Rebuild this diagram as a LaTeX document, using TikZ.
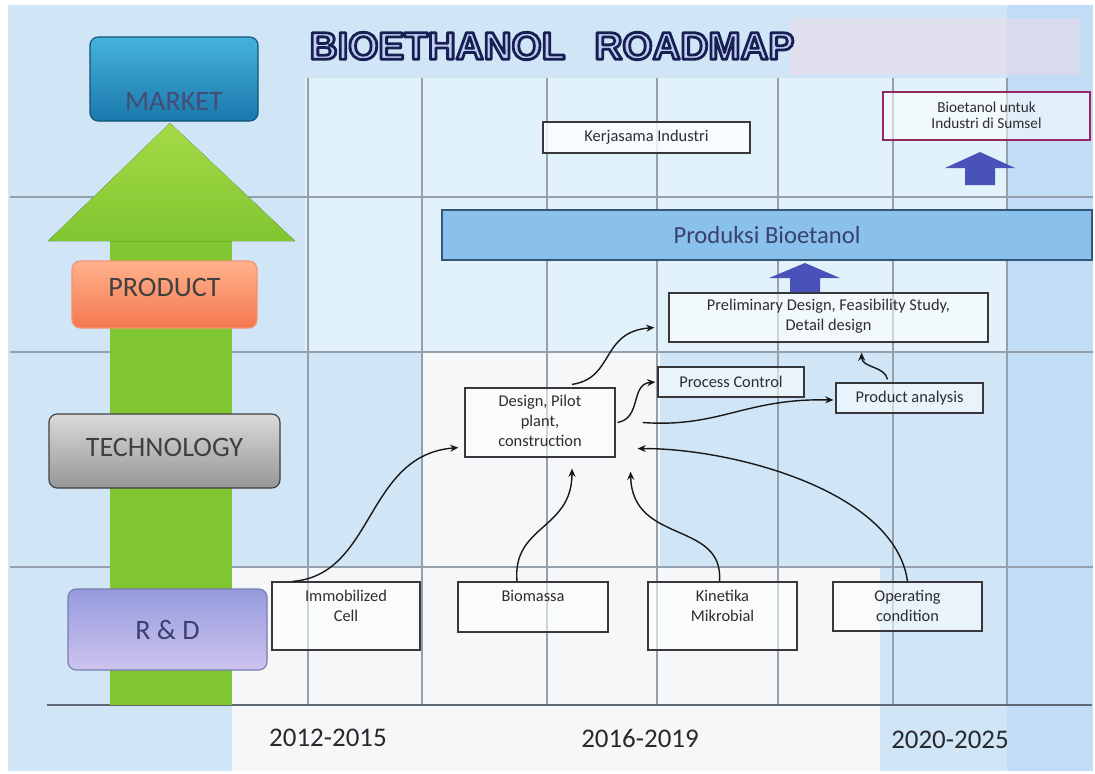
\documentclass[tikz,border=0pt]{standalone}
\usepackage{fontspec}
\setmainfont{Carlito}
\newfontfamily\ttlfont{Liberation Sans}
\usetikzlibrary{calc,arrows.meta}
\definecolor{bgblue}{RGB}{208,230,247}
\definecolor{bgcyan}{RGB}{226,242,251}
\definecolor{bgwhite}{RGB}{246,247,248}
\definecolor{bgright}{RGB}{192,221,245}
\definecolor{bgpink}{RGB}{246,218,228}
\definecolor{gridc}{RGB}{150,160,172}
\definecolor{axisc}{RGB}{95,105,118}
\definecolor{boxline}{RGB}{55,55,60}
\definecolor{txt}{RGB}{45,45,50}
\definecolor{navy}{RGB}{22,32,82}
\definecolor{ttlfill}{RGB}{196,204,242}
\definecolor{greenA}{RGB}{128,198,48}
\definecolor{greenB}{RGB}{165,218,72}
\definecolor{mkttop}{RGB}{70,178,220}
\definecolor{mktbot}{RGB}{25,120,172}
\definecolor{prodtop}{RGB}{255,178,140}
\definecolor{prodbot}{RGB}{245,120,80}
\definecolor{techtop}{RGB}{218,218,218}
\definecolor{techbot}{RGB}{150,150,152}
\definecolor{rndtop}{RGB}{150,155,222}
\definecolor{rndbot}{RGB}{205,195,238}
\definecolor{barblue}{RGB}{138,192,236}
\definecolor{barline}{RGB}{50,85,120}
\definecolor{blockblue}{RGB}{72,82,185}
\definecolor{sumline}{RGB}{150,40,95}
\newcommand{\strokeon}{\special{pdf:literal direct 2 Tr 2.4 w 1 j 0.086 0.125 0.32 RG}}
\newcommand{\strokeoff}{\special{pdf:literal direct 0 Tr}}
\begin{document}
\begin{tikzpicture}[x=0.03cm,y=-0.03cm,
  wh/.style 2 args={minimum width=#1*0.03cm, minimum height=#2*0.03cm},
  gridline/.style={draw=gridc, line width=1.1pt},
  levelbox/.style={rounded corners=7pt, line width=1pt, inner sep=0pt},
  leveltext/.style={font=\fontsize{24}{28}\selectfont, inner sep=0pt},
  box/.style={draw=boxline, line width=1pt, fill=white, fill opacity=0.55, text opacity=1, inner sep=0pt},
  boxtext/.style={font=\fontsize{14}{17}\selectfont, text=txt, align=center, inner sep=0pt},
  conn/.style={draw=black!90, line width=1.2pt, -{Stealth[length=7pt,width=6pt]}},
  yeartext/.style={font=\fontsize{23}{26}\selectfont, text=txt!90!black, inner sep=0pt}
]
\useasboundingbox (0,0) rectangle (1095,773);
% background
\fill[white] (0,0) rectangle (1095,773);
\fill[bgblue] (8,5) rectangle (1093,771);
\fill[bgcyan] (305,78) rectangle (1007,352);
\fill[bgright] (1007,5) rectangle (1093,771);
\fill[bgpink, opacity=0.45] (790,18) rectangle (1080,75);
\fill[bgwhite] (422,352) rectangle (660,567);
\fill[bgwhite] (232,567) rectangle (880,771);
% grid
\foreach \gx in {308,422,547,657,778,893,1007} \draw[gridline] (\gx,78) -- (\gx,705);
\foreach \gy in {197,352,567} \draw[gridline] (10,\gy) -- (1093,\gy);
\draw[draw=axisc, line width=1.3pt] (47,705) -- (1092,705);
% green arrow
\fill[greenA] (110,705) -- (110,241) -- (232,241) -- (232,705) -- cycle;
\fill[top color=greenB, bottom color=greenA] (48,241) -- (170,123) -- (295,241) -- cycle;
% level boxes
\node[levelbox, wh={168}{84}, top color=mkttop, bottom color=mktbot, draw=mktbot!70!black] (market) at (174,79) {};
\node[leveltext, text=navy!80] (marketT) at (174,101) {MARKET};
\node[levelbox, wh={185}{67}, top color=prodtop, bottom color=prodbot, draw=prodbot!80!white] (product) at (164.5,294.5) {};
\node[leveltext, text=black!75] (productT) at (164.5,287) {PRODUCT};
\node[levelbox, wh={231}{74}, top color=techtop, bottom color=techbot, draw=black!75] (tech) at (164.5,451) {};
\node[leveltext, text=black!75] (techT) at (164.5,447) {TECHNOLOGY};
\node[levelbox, wh={199}{81}, top color=rndtop, bottom color=rndbot, draw=rndtop!80!black] (rnd) at (167.5,629.5) {};
\node[leveltext, text=navy!85] (rndT) at (167.5,630) {R \& D};
% title
\node[font=\ttlfont\bfseries\fontsize{33}{36}\selectfont, text=ttlfill, inner sep=0pt] (title) at (552,46) {\strokeon BIOETHANOL\hspace{25pt}ROADMAP\strokeoff};
% top boxes
\node[box, wh={207}{31}, fill=white, fill opacity=0.8] (kerja) at (646.5,137.5) {};
\node[boxtext] (kerjaT) at (646.5,137.5) {Kerjasama Industri};
\node[box, wh={207}{48}, draw=sumline] (sumsel) at (986.5,116) {};
\node[boxtext, font=\fontsize{13}{14}\selectfont] (sumselT) at (986.5,115) {Bioetanol untuk\\Industri di Sumsel};
\fill[blockblue] (965,185) -- (965,168) -- (945,168) -- (980,152) -- (1015,168) -- (995,168) -- (995,185) -- cycle;
\node[draw=barline, line width=1.2pt, fill=barblue, wh={650}{50}, inner sep=0pt, font=\fontsize{21}{24}\selectfont, text=navy!85] (produksi) at (767,235) {Produksi Bioetanol};
\fill[blockblue] (790,293) -- (790,278) -- (769,278) -- (805,263) -- (840,278) -- (820,278) -- (820,293) -- cycle;
% technology boxes
\node[box, wh={319}{49}] (prelim) at (828.5,317.5) {};
\node[boxtext] (prelimT) at (828.5,316) {Preliminary Design, Feasibility Study,\\Detail design};
\node[box, wh={146}{30}] (procctl) at (731,382) {};
\node[boxtext] (procctlT) at (731,382) {Process Control};
\node[box, wh={147}{30}] (prodana) at (909.5,398) {};
\node[boxtext] (prodanaT) at (909.5,398) {Product analysis};
\node[box, wh={150}{69}] (design) at (540,422.5) {};
\node[boxtext] (designT) at (540,421) {Design, Pilot\\plant,\\construction};
% R&D boxes
\node[box, wh={148}{68}] (immob) at (346,616) {};
\node[boxtext, anchor=north] (immobT) at (346,590) {Immobilized\\Cell};
\node[box, wh={150}{50}] (biomassa) at (533,607) {};
\node[boxtext, anchor=north] (biomassaT) at (533,590) {Biomassa};
\node[box, wh={149}{68}] (kinetika) at (722.5,616) {};
\node[boxtext, anchor=north] (kinetikaT) at (722.5,590) {Kinetika\\Mikrobial};
\node[box, wh={149}{49}] (operating) at (907.5,606.5) {};
\node[boxtext, anchor=north] (operatingT) at (907.5,590) {Operating\\condition};
% connectors
\draw[conn] ($(immob.north west)+(21,0)$) .. controls (375,575) and (365,455) .. ($(design.south west)+(-6,-10)$);
\draw[conn] ($(biomassa.north)+(-16,0)$) .. controls (512,525) and (572,530) .. ($(design.south)+(32,11)$);
\draw[conn] ($(kinetika.north)+(-3,0)$) .. controls (724,520) and (632,545) .. ($(design.south east)+(15,14)$);
\draw[conn] (operating.north) .. controls (895,490) and (730,448) .. ($(design.south east)+(22,-9)$);
\draw[conn] ($(design.north)+(32,-3)$) .. controls (615,378) and (600,332) .. ($(prelim.west)+(-14,10)$);
\draw[conn] ($(design.east)+(2,0)$) .. controls (642,418) and (630,384) .. ($(procctl.west)+(-2,0)$);
\draw[conn] ($(design.east)+(27,0)$) .. controls (720,428) and (745,398) .. ($(prodana.west)+(-2,2)$);
\draw[conn] ($(prodana.north)+(-22,-3)$) .. controls (885,366) and (862,368) .. ($(prelim.south)+(33,10)$);
% years
\node[yeartext] (y1) at (328,738) {2012-2015};
\node[yeartext] (y2) at (640,738) {2016-2019};
\node[yeartext] (y3) at (950,740) {2020-2025};
\end{tikzpicture}
\end{document}
